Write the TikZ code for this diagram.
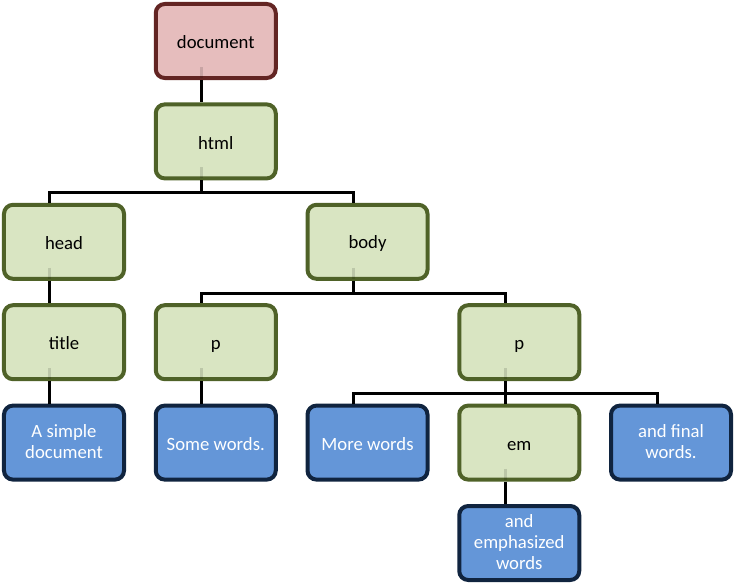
\documentclass[tikz,border=0pt]{standalone}
\usepackage{fontspec}
\setmainfont{Carlito}
\definecolor{rootfill}{HTML}{E6BDBD}
\definecolor{rootline}{HTML}{632523}
\definecolor{elemfill}{HTML}{D9E5C2}
\definecolor{elemline}{HTML}{4F6228}
\definecolor{leaffill}{HTML}{6496D8}
\definecolor{leafline}{HTML}{10243F}
\newcommand{\boxstrut}{\rule[-2bp]{0pt}{19.4bp}}
\begin{document}
\begin{tikzpicture}
  [
    x=151.75bp, y=-100.4bp,
    box/.style={minimum width=120bp, minimum height=74bp,
    rounded corners=9bp, line width=4bp, align=center, inner sep=2bp,
    font=\fontsize{18.7bp}{20.6bp}\selectfont,
    execute at begin node=\boxstrut, execute at end node=\boxstrut},
    root/.style={box, draw=rootline, fill=rootfill},
    elem/.style={box, draw=elemline, fill=elemfill},
    leaf/.style={box, draw=leafline, fill=leaffill, text=white},
    ln/.style={draw=black, line width=3bp},
    stub/.style={draw=black, line width=3bp, opacity=0.13}
  ]
  \useasboundingbox (-64bp,41bp) rectangle (671bp,-544bp);

  \node (document) at (1,0) [root] {document};
  \node (html)     at (1,1) [elem] {html};
  \node (head)     at (0,2) [elem] {head};
  \node (body)     at (2,2) [elem] {body};
  \node (title)    at (0,3) [elem] {title};
  \node (p1)       at (1,3) [elem] {p};
  \node (p2)       at (3,3) [elem] {p};
  \node (simple)   at (0,4) [leaf] {A simple\\document};
  \node (some)     at (1,4) [leaf] {Some words.};
  \node (more)     at (2,4) [leaf] {More words};
  \node (em)       at (3,4) [elem] {em};
  \node (final)    at (4,4) [leaf] {and final\\words.};
  \node (emph)     at (3,5) [leaf] {and\\emphasized\\words};

  \draw [ln] ([xshift=-14bp]document.south) -- ([xshift=-14bp]html.north);
  \draw [ln] ([xshift=-14bp]html.south) -- ++(0bp,-12.5bp) -| ([xshift=-14bp]head.north);
  \draw [ln] ([xshift=-14bp]html.south) -- ++(0bp,-12.5bp) -| ([xshift=-14bp]body.north);
  \draw [ln] ([xshift=-14bp]head.south) -- ([xshift=-14bp]title.north);
  \draw [ln] ([xshift=-14bp]body.south) -- ++(0bp,-12.5bp) -| ([xshift=-14bp]p1.north);
  \draw [ln] ([xshift=-14bp]body.south) -- ++(0bp,-12.5bp) -| ([xshift=-14bp]p2.north);
  \draw [ln] ([xshift=-14bp]title.south) -- ([xshift=-14bp]simple.north);
  \draw [ln] ([xshift=-14bp]p1.south) -- ([xshift=-14bp]some.north);
  \draw [ln] ([xshift=-14bp]p2.south) -- ++(0bp,-12.5bp) -| ([xshift=-14bp]more.north);
  \draw [ln] ([xshift=-14bp]p2.south) -- ++(0bp,-12.5bp) -| ([xshift=-14bp]em.north);
  \draw [ln] ([xshift=-14bp]p2.south) -- ++(0bp,-12.5bp) -| ([xshift=-14bp]final.north);
  \draw [ln] ([xshift=-14bp]em.south) -- ([xshift=-14bp]emph.north);

  % faint ends of the connectors inside the parent boxes
  \draw [stub] ([xshift=-14bp,yshift=13bp]document.south) -- ([xshift=-14bp,yshift=2bp]document.south);
  \draw [stub] ([xshift=-14bp,yshift=13bp]html.south) -- ([xshift=-14bp,yshift=2bp]html.south);
  \draw [stub] ([xshift=-14bp,yshift=13bp]head.south) -- ([xshift=-14bp,yshift=2bp]head.south);
  \draw [stub] ([xshift=-14bp,yshift=13bp]body.south) -- ([xshift=-14bp,yshift=2bp]body.south);
  \draw [stub] ([xshift=-14bp,yshift=13bp]title.south) -- ([xshift=-14bp,yshift=2bp]title.south);
  \draw [stub] ([xshift=-14bp,yshift=13bp]p1.south) -- ([xshift=-14bp,yshift=2bp]p1.south);
  \draw [stub] ([xshift=-14bp,yshift=13bp]p2.south) -- ([xshift=-14bp,yshift=2bp]p2.south);
  \draw [stub] ([xshift=-14bp,yshift=13bp]em.south) -- ([xshift=-14bp,yshift=2bp]em.south);
\end{tikzpicture}
\end{document}
